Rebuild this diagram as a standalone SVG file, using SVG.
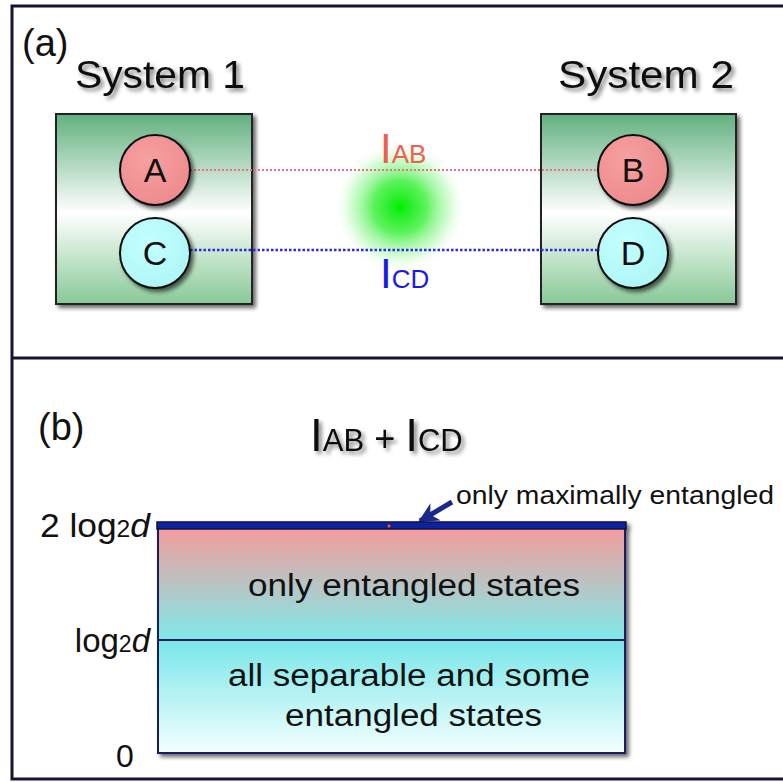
<svg xmlns="http://www.w3.org/2000/svg" width="783" height="782" viewBox="0 0 783 782">
<defs>
<style>
.t{font-family:"Liberation Sans",Arial,sans-serif;fill:#111}
.node{stroke:#111;stroke-width:2}
</style>
<linearGradient id="gbox" x1="0" y1="0" x2="0" y2="1">
<stop offset="0" stop-color="#62b07f"/>
<stop offset="0.52" stop-color="#ffffff"/>
<stop offset="1" stop-color="#88c996"/>
</linearGradient>
<radialGradient id="gred" cx="0.4" cy="0.35" r="0.7">
<stop offset="0" stop-color="#f6a0a0"/>
<stop offset="1" stop-color="#ee8a8c"/>
</radialGradient>
<radialGradient id="gcyan" cx="0.4" cy="0.35" r="0.7">
<stop offset="0" stop-color="#c4ffff"/>
<stop offset="1" stop-color="#aef6f6"/>
</radialGradient>
<radialGradient id="glow">
<stop offset="0" stop-color="#00ee00"/>
<stop offset="0.4" stop-color="#40f040" stop-opacity="0.85"/>
<stop offset="0.75" stop-color="#a0f8a0" stop-opacity="0.45"/>
<stop offset="1" stop-color="#ffffff" stop-opacity="0"/>
</radialGradient>
<linearGradient id="gtop" x1="0" y1="0" x2="0" y2="1">
<stop offset="0" stop-color="#f59c9c"/>
<stop offset="1" stop-color="#80eaea"/>
</linearGradient>
<linearGradient id="gbot" x1="0" y1="0" x2="0" y2="1">
<stop offset="0" stop-color="#78e6e8"/>
<stop offset="1" stop-color="#f4ffff"/>
</linearGradient>
<filter id="sh" x="-20%" y="-20%" width="140%" height="140%">
<feGaussianBlur in="SourceAlpha" stdDeviation="2"/>
<feOffset dx="3" dy="3"/>
<feComponentTransfer><feFuncA type="linear" slope="0.6"/></feComponentTransfer>
<feMerge><feMergeNode/><feMergeNode in="SourceGraphic"/></feMerge>
</filter>
<filter id="tsh" x="-10%" y="-30%" width="120%" height="160%">
<feGaussianBlur in="SourceAlpha" stdDeviation="2"/>
<feOffset dx="3" dy="3"/>
<feComponentTransfer><feFuncA type="linear" slope="0.5"/></feComponentTransfer>
<feMerge><feMergeNode/><feMergeNode in="SourceGraphic"/></feMerge>
</filter>
<marker id="arr" viewBox="0 0 10 10" refX="9" refY="5" markerWidth="4" markerHeight="4" orient="auto">
<path d="M0,0 L10,5 L0,10 L3,5 z" fill="#1a2a8a"/>
</marker>
</defs>

<rect width="783" height="782" fill="#ffffff"/>

<g id="frame" fill="none" stroke="#141436" stroke-width="3">
<path d="M790,6 H12 V779 H790"/>
<line x1="12" y1="358" x2="790" y2="358"/>
</g>

<g id="panel-a-labels">
<text class="t" x="22" y="56" font-size="38">(a)</text>
<text class="t" x="75" y="88" font-size="38" textLength="170" lengthAdjust="spacingAndGlyphs" filter="url(#tsh)">System 1</text>
<text class="t" x="558" y="88" font-size="38" textLength="176" lengthAdjust="spacingAndGlyphs" filter="url(#tsh)">System 2</text>
</g>

<g id="system1">
<rect x="56" y="114" width="196" height="190" fill="url(#gbox)" stroke="#222" stroke-width="2" filter="url(#sh)"/>
</g>
<g id="system2">
<rect x="541" y="114" width="195" height="190" fill="url(#gbox)" stroke="#222" stroke-width="2" filter="url(#sh)"/>
</g>

<g id="glow-entanglement">
<circle cx="400" cy="207" r="66" fill="url(#glow)"/>
</g>

<g id="connectors">
<line x1="190" y1="170" x2="598" y2="170" stroke="#f06a8a" stroke-width="2" stroke-dasharray="2,2"/>
<line x1="190" y1="250" x2="598" y2="250" stroke="#2a2ae8" stroke-width="2.5" stroke-dasharray="2.5,2"/>
<line x1="452" y1="502" x2="420" y2="521" stroke="#1a2a8a" stroke-width="5" marker-end="url(#arr)"/>
</g>

<g id="node-A">
<circle class="node" cx="155" cy="170" r="35" fill="url(#gred)" filter="url(#sh)"/>
<text class="t" x="155" y="182" font-size="34" text-anchor="middle">A</text>
</g>
<g id="node-C">
<circle class="node" cx="155" cy="253" r="35" fill="url(#gcyan)" filter="url(#sh)"/>
<text class="t" x="155" y="265" font-size="34" text-anchor="middle">C</text>
</g>
<g id="node-B">
<circle class="node" cx="633" cy="170" r="35" fill="url(#gred)" filter="url(#sh)"/>
<text class="t" x="633" y="182" font-size="34" text-anchor="middle">B</text>
</g>
<g id="node-D">
<circle class="node" cx="633" cy="253" r="35" fill="url(#gcyan)" filter="url(#sh)"/>
<text class="t" x="633" y="265" font-size="34" text-anchor="middle">D</text>
</g>

<g id="info-labels">
<text x="380" y="163" font-family="Liberation Sans,Arial,sans-serif" fill="#f06050"><tspan font-size="42">I</tspan><tspan font-size="26">AB</tspan></text>
<text x="380" y="288" font-family="Liberation Sans,Arial,sans-serif" fill="#1a1ae8"><tspan font-size="42">I</tspan><tspan font-size="26">CD</tspan></text>
</g>

<g id="panel-b-labels">
<text class="t" x="38" y="440" font-size="38">(b)</text>
<text class="t" x="310" y="451" filter="url(#tsh)"><tspan font-size="46">I</tspan><tspan font-size="31">AB</tspan><tspan font-size="36"> + </tspan><tspan font-size="46">I</tspan><tspan font-size="31">CD</tspan></text>
<text class="t" x="40" y="537" font-size="33" textLength="110" lengthAdjust="spacingAndGlyphs">2 log<tspan font-size="23">2</tspan><tspan font-style="italic">d</tspan></text>
<text class="t" x="150" y="652" font-size="33" text-anchor="end">log<tspan font-size="23">2</tspan><tspan font-style="italic">d</tspan></text>
<text class="t" x="116" y="767" font-size="32">0</text>
<text class="t" x="456" y="504" font-size="26" textLength="318" lengthAdjust="spacingAndGlyphs">only maximally entangled</text>
</g>

<g id="bar" filter="url(#sh)">
<rect x="158" y="527" width="467" height="113" fill="url(#gtop)" stroke="#1a1a5a" stroke-width="2"/>
<rect x="158" y="640" width="467" height="113" fill="url(#gbot)" stroke="#1a1a5a" stroke-width="2"/>
<rect x="157" y="522" width="469" height="7" fill="#1020a0" stroke="#101040" stroke-width="1.5"/>
<circle cx="389" cy="526" r="1.5" fill="#ff6020"/>
</g>
<g id="bar-labels">
<text class="t" x="248" y="596" font-size="31" textLength="332" lengthAdjust="spacingAndGlyphs">only entangled states</text>
<text class="t" x="228" y="686" font-size="31" textLength="362" lengthAdjust="spacingAndGlyphs">all separable and some</text>
<text class="t" x="285" y="726" font-size="31" textLength="257" lengthAdjust="spacingAndGlyphs">entangled states</text>
</g>
</svg>
